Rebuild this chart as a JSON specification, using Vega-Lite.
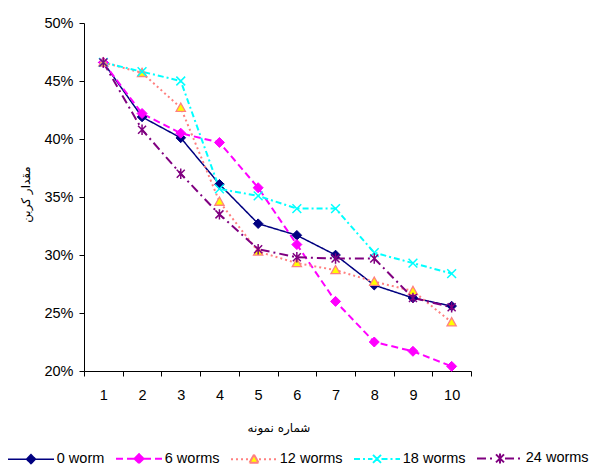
{
  "$schema": "https://vega.github.io/schema/vega-lite/v6.json",
  "width": 387,
  "height": 348,
  "autosize": {"type": "none"},
  "padding": {"left": 84, "top": 23, "right": 123, "bottom": 96},
  "background": "white",
  "config": {
    "view": {"stroke": null},
    "axis": {
      "grid": false,
      "domainColor": "black",
      "domainWidth": 1,
      "tickColor": "black",
      "tickWidth": 1,
      "tickSize": 5,
      "labelFont": "Liberation Sans",
      "labelFontSize": 14.5,
      "labelColor": "black",
      "titleFont": "DejaVu Sans",
      "titleFontSize": 12,
      "titleFontWeight": "normal",
      "titleColor": "black"
    }
  },
  "resolve": {
    "scale": {
      "color": "independent",
      "fill": "independent",
      "stroke": "independent",
      "strokeDash": "independent",
      "strokeWidth": "independent",
      "shape": "independent"
    }
  },
  "data": {
    "values": [
      {"sample": 1, "series": "0 worm", "carbon": 0.466},
      {"sample": 2, "series": "0 worm", "carbon": 0.419},
      {"sample": 3, "series": "0 worm", "carbon": 0.401},
      {"sample": 4, "series": "0 worm", "carbon": 0.361},
      {"sample": 5, "series": "0 worm", "carbon": 0.327},
      {"sample": 6, "series": "0 worm", "carbon": 0.317},
      {"sample": 7, "series": "0 worm", "carbon": 0.300},
      {"sample": 8, "series": "0 worm", "carbon": 0.274},
      {"sample": 9, "series": "0 worm", "carbon": 0.263},
      {"sample": 10, "series": "0 worm", "carbon": 0.256},
      {"sample": 1, "series": "6 worms", "carbon": 0.466},
      {"sample": 2, "series": "6 worms", "carbon": 0.422},
      {"sample": 3, "series": "6 worms", "carbon": 0.405},
      {"sample": 4, "series": "6 worms", "carbon": 0.397},
      {"sample": 5, "series": "6 worms", "carbon": 0.358},
      {"sample": 6, "series": "6 worms", "carbon": 0.309},
      {"sample": 7, "series": "6 worms", "carbon": 0.260},
      {"sample": 8, "series": "6 worms", "carbon": 0.225},
      {"sample": 9, "series": "6 worms", "carbon": 0.217},
      {"sample": 10, "series": "6 worms", "carbon": 0.204},
      {"sample": 1, "series": "12 worms", "carbon": 0.466},
      {"sample": 2, "series": "12 worms", "carbon": 0.457},
      {"sample": 3, "series": "12 worms", "carbon": 0.427},
      {"sample": 4, "series": "12 worms", "carbon": 0.346},
      {"sample": 5, "series": "12 worms", "carbon": 0.303},
      {"sample": 6, "series": "12 worms", "carbon": 0.293},
      {"sample": 7, "series": "12 worms", "carbon": 0.287},
      {"sample": 8, "series": "12 worms", "carbon": 0.277},
      {"sample": 9, "series": "12 worms", "carbon": 0.269},
      {"sample": 10, "series": "12 worms", "carbon": 0.242},
      {"sample": 1, "series": "18 worms", "carbon": 0.466},
      {"sample": 2, "series": "18 worms", "carbon": 0.458},
      {"sample": 3, "series": "18 worms", "carbon": 0.450},
      {"sample": 4, "series": "18 worms", "carbon": 0.357},
      {"sample": 5, "series": "18 worms", "carbon": 0.351},
      {"sample": 6, "series": "18 worms", "carbon": 0.340},
      {"sample": 7, "series": "18 worms", "carbon": 0.340},
      {"sample": 8, "series": "18 worms", "carbon": 0.302},
      {"sample": 9, "series": "18 worms", "carbon": 0.293},
      {"sample": 10, "series": "18 worms", "carbon": 0.284},
      {"sample": 1, "series": "24 worms", "carbon": 0.466},
      {"sample": 2, "series": "24 worms", "carbon": 0.408},
      {"sample": 3, "series": "24 worms", "carbon": 0.370},
      {"sample": 4, "series": "24 worms", "carbon": 0.335},
      {"sample": 5, "series": "24 worms", "carbon": 0.305},
      {"sample": 6, "series": "24 worms", "carbon": 0.298},
      {"sample": 7, "series": "24 worms", "carbon": 0.297},
      {"sample": 8, "series": "24 worms", "carbon": 0.297},
      {"sample": 9, "series": "24 worms", "carbon": 0.263},
      {"sample": 10, "series": "24 worms", "carbon": 0.255}
    ]
  },
  "encoding": {
    "x": {
      "field": "sample",
      "type": "quantitative",
      "scale": {"domain": [0.5, 10.5], "nice": false, "zero": false},
      "axis": {
        "title": "شماره نمونه",
        "values": [0.5, 1.5, 2.5, 3.5, 4.5, 5.5, 6.5, 7.5, 8.5, 9.5, 10.5],
        "labelExpr": "datum.value < 10 ? format(datum.value + 0.5, 'd') : ''",
        "labelOffset": 19.35,
        "labelFlush": false,
        "labelOverlap": false,
        "labelBound": false,
        "labelPadding": 12,
        "titleX": 194.5,
        "titleY": 56,
        "titleAlign": "center",
        "titleBaseline": "middle"
      }
    },
    "y": {
      "field": "carbon",
      "type": "quantitative",
      "scale": {"domain": [0.2, 0.5], "nice": false, "zero": false},
      "axis": {
        "title": "مقدار کربن",
        "values": [0.2, 0.25, 0.3, 0.35, 0.4, 0.45, 0.5],
        "format": ".0%",
        "labelPadding": 6,
        "labelFlush": false,
        "labelOverlap": false,
        "titleX": -59,
        "titleY": 171,
        "titleAngle": -90,
        "titleAlign": "center",
        "titleBaseline": "middle"
      }
    }
  },
  "layer": [
    {
      "mark": {"type": "line"},
      "encoding": {
        "color": {
          "field": "series",
          "type": "nominal",
          "scale": {
            "domain": ["0 worm", "6 worms", "12 worms", "18 worms", "24 worms"],
            "range": ["#000080", "#FF00FF", "#FF8080", "#00FFFF", "#800080"]
          },
          "legend": null
        },
        "strokeDash": {
          "field": "series",
          "type": "nominal",
          "scale": {
            "domain": ["0 worm", "6 worms", "12 worms", "18 worms", "24 worms"],
            "range": [[1, 0], [7, 4], [2, 3], [6, 3, 2, 3], [9, 4, 2, 4]]
          },
          "legend": null
        },
        "strokeWidth": {
          "field": "series",
          "type": "nominal",
          "scale": {
            "type": "ordinal",
            "domain": ["0 worm", "6 worms", "12 worms", "18 worms", "24 worms"],
            "range": [1.5, 2, 2, 2, 2]
          },
          "legend": null
        }
      }
    },
    {
      "transform": [{"filter": {"field": "series", "equal": "0 worm"}}],
      "mark": {"type": "point", "shape": "M-1.2,0L0,-1.2L1.2,0L0,1.2Z", "size": 64, "filled": true, "fill": "#000080", "stroke": "#000080", "strokeWidth": 1, "opacity": 1}
    },
    {
      "transform": [{"filter": {"field": "series", "equal": "6 worms"}}],
      "mark": {"type": "point", "shape": "M-1.25,0L0,-1.25L1.25,0L0,1.25Z", "size": 64, "filled": true, "fill": "#FF00FF", "stroke": "#FF00FF", "strokeWidth": 1, "opacity": 1}
    },
    {
      "transform": [{"filter": {"field": "series", "equal": "12 worms"}}],
      "mark": {"type": "point", "shape": "M0,-1.15L1.15,0.9L-1.15,0.9Z", "size": 64, "filled": true, "fill": "#FFFF00", "stroke": "#FF8080", "strokeWidth": 1.3, "opacity": 1}
    },
    {
      "transform": [{"filter": {"field": "series", "equal": "18 worms"}}],
      "mark": {"type": "point", "shape": "M-1.1,-1.1L1.1,1.1M-1.1,1.1L1.1,-1.1", "size": 64, "filled": false, "stroke": "#00FFFF", "strokeWidth": 1.5, "opacity": 1}
    },
    {
      "transform": [{"filter": {"field": "series", "equal": "24 worms"}}],
      "mark": {"type": "point", "shape": "M-1,-1L1,1M-1,1L1,-1M0,-1.3L0,1.3", "size": 64, "filled": false, "stroke": "#800080", "strokeWidth": 1.5, "opacity": 1}
    },
    {
      "transform": [{"filter": "false"}],
      "mark": {"type": "point", "filled": true, "opacity": 1},
      "encoding": {
        "fill": {
          "field": "series",
          "type": "nominal",
          "scale": {
            "domain": ["0 worm", "6 worms", "12 worms", "18 worms", "24 worms"],
            "range": ["#000080", "#FF00FF", "#FFFF00", "#00FFFF", "#800080"]
          },
          "legend": {
            "orient": "none",
            "legendX": -77,
            "legendY": 427.75,
            "direction": "horizontal",
            "title": null,
            "symbolSize": 4,
            "labelFont": "Liberation Sans",
            "labelFontSize": 14.5,
            "labelColor": "black",
            "labelOffset": 18.5,
            "symbolOffset": 16.75,
            "columnPadding": 7
          }
        },
        "stroke": {
          "field": "series",
          "type": "nominal",
          "scale": {
            "domain": ["0 worm", "6 worms", "12 worms", "18 worms", "24 worms"],
            "range": ["#000080", "#FF00FF", "#FF8080", "#00FFFF", "#800080"]
          }
        },
        "strokeDash": {
          "field": "series",
          "type": "nominal",
          "scale": {
            "domain": ["0 worm", "6 worms", "12 worms", "18 worms", "24 worms"],
            "range": [[1, 0], [7, 4], [2, 3], [6, 3, 2, 3], [9, 4, 2, 4]]
          }
        },
        "strokeWidth": {
          "field": "series",
          "type": "nominal",
          "scale": {
            "type": "ordinal",
            "domain": ["0 worm", "6 worms", "12 worms", "18 worms", "24 worms"],
            "range": [1.5, 2, 2, 2, 2]
          }
        },
        "shape": {
          "field": "series",
          "type": "nominal",
          "scale": {
            "domain": ["0 worm", "6 worms", "12 worms", "18 worms", "24 worms"],
            "range": [
              "M-23,0H-4.5M4.5,0H23M-4.5,0L0,-4.5L4.5,0L0,4.5Z",
              "M-23,0H-5M5,0H23M-4.5,0L0,-4.5L4.5,0L0,4.5ZM-4.5,0L0,-4.5M0,-4.5L4.5,0M4.5,0L0,4.5M0,4.5L-4.5,0",
              "M-23,0H-5M5,0H23M0,-4.5L4.5,3.5L-4.5,3.5ZM0,-4.5L-0.9,-2.9M-0.9,-2.9L-1.8,-1.3M-1.8,-1.3L-2.7,0.3M-2.7,0.3L-3.6,1.9M-3.6,1.9L-4.5,3.5M0,-4.5L0.9,-2.9M0.9,-2.9L1.8,-1.3M1.8,-1.3L2.7,0.3M2.7,0.3L3.6,1.9M3.6,1.9L4.5,3.5M-4.5,3.5H-2.7M-2.7,3.5H-0.9M-0.9,3.5H0.9M0.9,3.5H2.7M2.7,3.5H4.5",
              "M-23,0H-4.5M4.5,0H23M0,0L-4,-4M0,0L4,-4M0,0L4,4M0,0L-4,4",
              "M-23,0H-5M5,0H23M0,0L-4,-4M0,0L4,-4M0,0L4,4M0,0L-4,4M0,0V-5M0,0V5"
            ]
          }
        }
      }
    }
  ]
}
